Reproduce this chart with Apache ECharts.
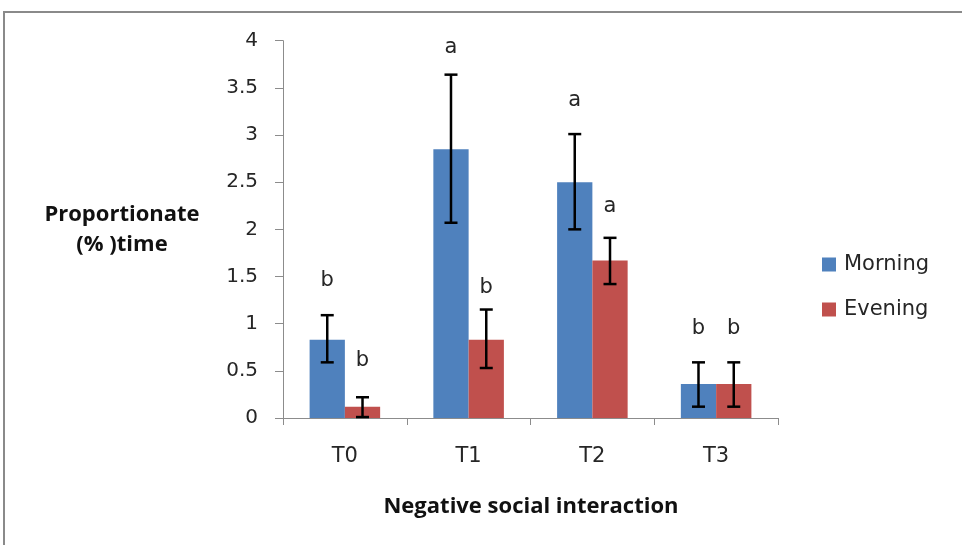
<!DOCTYPE html>
<html>
<head>
<meta charset="utf-8">
<script src="https://cdn.jsdelivr.net/npm/echarts@6/dist/echarts.min.js"></script>
<style>
html,body{margin:0;padding:0;background:#fff;}
#chart{width:962px;height:545px;}
</style>
</head>
<body>
<div id="chart"></div>
<script>
var categories = ['T0', 'T1', 'T2', 'T3'];
var yTicks = [0, 0.5, 1, 1.5, 2, 2.5, 3, 3.5, 4];
var morning = [0.83, 2.85, 2.5, 0.36];
var evening = [0.12, 0.83, 1.67, 0.36];
var morningErrLow = [0.59, 2.07, 2.0, 0.12];
var morningErrHigh = [1.09, 3.64, 3.01, 0.59];
var eveningErrLow = [0.01, 0.53, 1.42, 0.12];
var eveningErrHigh = [0.22, 1.15, 1.91, 0.59];
var morningLetters = ['b', 'a', 'a', 'b'];
var eveningLetters = ['b', 'b', 'a', 'b'];
var morningLetterY = [1.46, 3.93, 3.37, 0.95];
var eveningLetterY = [0.61, 1.38, 2.24, 0.95];

var BAR_FRAC = 0.285;
var FONT = 'DejaVu Sans';
var BOLD_FONT = 'Open Sans';

function errData(lo, hi) {
  return categories.map(function (c, i) { return [i, lo[i], hi[i]]; });
}
function letterData(ys) {
  return categories.map(function (c, i) { return [i, ys[i]]; });
}
function errRender(side) {
  return function (params, api) {
    var band = api.size([1, 0])[0];
    var off = side * band * BAR_FRAC / 2;
    var top = api.coord([api.value(0), api.value(2)]);
    var bot = api.coord([api.value(0), api.value(1)]);
    var x = top[0] + off;
    var cap = 6.5;
    var st = { stroke: '#000', lineWidth: 2.5 };
    return {
      type: 'group',
      children: [
        { type: 'line', shape: { x1: x, y1: top[1], x2: x, y2: bot[1] }, style: st },
        { type: 'line', shape: { x1: x - cap, y1: top[1], x2: x + cap, y2: top[1] }, style: st },
        { type: 'line', shape: { x1: x - cap, y1: bot[1], x2: x + cap, y2: bot[1] }, style: st }
      ]
    };
  };
}
function letterRender(side, letters) {
  return function (params, api) {
    var band = api.size([1, 0])[0];
    var off = side * band * BAR_FRAC / 2;
    var p = api.coord([api.value(0), api.value(1)]);
    return {
      type: 'text',
      style: {
        x: p[0] + off, y: p[1], text: letters[params.dataIndex],
        fill: '#262626', font: '21px "' + FONT + '"',
        align: 'center', verticalAlign: 'middle'
      }
    };
  };
}

var chart = echarts.init(document.getElementById('chart'));
chart.setOption({
  animation: false,
  backgroundColor: '#fff',
  graphic: [
    { type: 'rect', shape: { x: 4, y: 12, width: 1000, height: 600 }, style: { fill: 'none', stroke: '#8a8a8a', lineWidth: 2 }, z: 100 },
    { type: 'text', style: { x: 122, y: 215, text: 'Proportionate', font: 'bold 22px "' + BOLD_FONT + '"', fill: '#111', align: 'center', verticalAlign: 'middle' } },
    { type: 'text', style: { x: 122, y: 245, text: '(% )time', font: 'bold 22px "' + BOLD_FONT + '"', fill: '#111', align: 'center', verticalAlign: 'middle' } },
    { type: 'text', style: { x: 531, y: 507, text: 'Negative social interaction', font: 'bold 22px "' + BOLD_FONT + '"', fill: '#111', align: 'center', verticalAlign: 'middle' } }
  ],
  grid: { left: 283, right: 184, top: 40.7, bottom: 127, containLabel: false },
  legend: {
    data: ['Morning', 'Evening'],
    orient: 'vertical',
    left: 817,
    top: 249,
    itemWidth: 14,
    itemHeight: 14,
    itemGap: 24,
    icon: 'rect',
    textStyle: { fontFamily: FONT, fontSize: 21, color: '#262626', padding: [0, 0, 0, 3] }
  },
  xAxis: {
    type: 'category',
    data: categories,
    axisLine: { lineStyle: { color: '#8c8c8c', width: 1 } },
    axisTick: { show: true, length: 7, lineStyle: { color: '#8c8c8c' } },
    axisLabel: { fontFamily: FONT, fontSize: 21, color: '#262626', margin: 28 },
    splitLine: { show: false }
  },
  yAxis: {
    type: 'value',
    min: yTicks[0],
    max: yTicks[yTicks.length - 1],
    interval: 0.5,
    axisLine: { show: true, lineStyle: { color: '#8c8c8c', width: 1 } },
    axisTick: { show: true, length: 8, lineStyle: { color: '#8c8c8c' } },
    axisLabel: { fontFamily: FONT, fontSize: 20, color: '#262626', margin: 25 },
    splitLine: { show: false }
  },
  series: [
    { name: 'Morning', type: 'bar', data: morning, barWidth: (BAR_FRAC * 100) + '%', barGap: '0%', itemStyle: { color: '#4F81BD' } },
    { name: 'Evening', type: 'bar', data: evening, barWidth: (BAR_FRAC * 100) + '%', barGap: '0%', itemStyle: { color: '#C0504D' } },
    { type: 'custom', data: errData(morningErrLow, morningErrHigh), renderItem: errRender(-1), encode: { x: 0, y: [1, 2] }, z: 5 },
    { type: 'custom', data: errData(eveningErrLow, eveningErrHigh), renderItem: errRender(1), encode: { x: 0, y: [1, 2] }, z: 5 },
    { type: 'custom', data: letterData(morningLetterY), renderItem: letterRender(-1, morningLetters), encode: { x: 0, y: 1 }, z: 6 },
    { type: 'custom', data: letterData(eveningLetterY), renderItem: letterRender(1, eveningLetters), encode: { x: 0, y: 1 }, z: 6 }
  ]
});
</script>
</body>
</html>
